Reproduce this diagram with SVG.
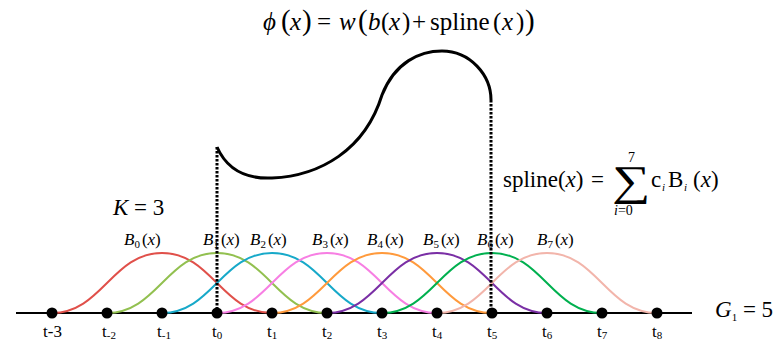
<svg xmlns="http://www.w3.org/2000/svg" width="778" height="345" viewBox="0 0 778 345">
<style>
text{font-family:'Liberation Serif','Times New Roman',serif;fill:#000}
.it{font-style:italic}
.f{font-size:25px}
.bp{font-size:29px}
.m{font-size:23px}
.lbl{font-size:17px}
.tk{font-size:17px}
.sb{font-size:11px}
.ss{font-size:14px}
.bs{fill:none;stroke-width:2}
.dash{stroke:#000;stroke-width:3;stroke-dasharray:2.5 1.5;fill:none}
.dot{fill:#000}
</style>
<g id="axis">
<line x1="16" y1="313" x2="692" y2="313" stroke="#000" stroke-width="2"/>
</g>
<g id="basis">
<path id="B0" class="bs" stroke="#e0504a" d="M52,313 C102,313 112,253 162,253 C212,253 222,313 272,313"/>
<path id="B1" class="bs" stroke="#92c050" d="M107,313 C157,313 167,253 217,253 C267,253 277,313 327,313"/>
<path id="B2" class="bs" stroke="#17a9c9" d="M162,313 C212,313 222,253 272,253 C322,253 332,313 382,313"/>
<path id="B3" class="bs" stroke="#f77fe3" d="M217,313 C267,313 277,253 327,253 C377,253 387,313 437,313"/>
<path id="B4" class="bs" stroke="#ff9a3c" d="M272,313 C322,313 332,253 382,253 C432,253 442,313 492,313"/>
<path id="B5" class="bs" stroke="#7a2fa5" d="M327,313 C377,313 387,253 437,253 C487,253 497,313 547,313"/>
<path id="B6" class="bs" stroke="#00b04f" d="M382,313 C432,313 442,253 492,253 C542,253 552,313 602,313"/>
<path id="B7" class="bs" stroke="#f2b5ab" d="M437,313 C487,313 497,253 547,253 C597,253 607,313 657,313"/>
</g>
<g id="connectors">
<line class="dash" x1="217" y1="147" x2="217" y2="313"/>
<line class="dash" x1="491" y1="100" x2="491" y2="313"/>
</g>
<g id="phi-curve">
<path d="M217,147 C228,172 250,179 272,178 C320,176 365,150 382,95 C395,62 420,51 442,51 C470,51 491,75 491,100" fill="none" stroke="#000" stroke-width="3"/>
</g>
<g id="knots">
<circle class="dot" cx="52" cy="313" r="5.5"/>
<circle class="dot" cx="107" cy="313" r="5.5"/>
<circle class="dot" cx="162" cy="313" r="5.5"/>
<circle class="dot" cx="217" cy="313" r="5.5"/>
<circle class="dot" cx="272" cy="313" r="5.5"/>
<circle class="dot" cx="327" cy="313" r="5.5"/>
<circle class="dot" cx="382" cy="313" r="5.5"/>
<circle class="dot" cx="437" cy="313" r="5.5"/>
<circle class="dot" cx="492" cy="313" r="5.5"/>
<circle class="dot" cx="547" cy="313" r="5.5"/>
<circle class="dot" cx="602" cy="313" r="5.5"/>
<circle class="dot" cx="657" cy="313" r="5.5"/>
</g>
<g id="knot-labels">
<text class="tk" x="43" y="337">t-3</text>
<text class="tk" x="102" y="337">t<tspan class="sb" dy="2">-2</tspan></text>
<text class="tk" x="157" y="337">t<tspan class="sb" dy="2">-1</tspan></text>
<text class="tk" x="212" y="337">t<tspan class="sb" dy="2">0</tspan></text>
<text class="tk" x="267" y="337">t<tspan class="sb" dy="2">1</tspan></text>
<text class="tk" x="322" y="337">t<tspan class="sb" dy="2">2</tspan></text>
<text class="tk" x="377" y="337">t<tspan class="sb" dy="2">3</tspan></text>
<text class="tk" x="432" y="337">t<tspan class="sb" dy="2">4</tspan></text>
<text class="tk" x="487" y="337">t<tspan class="sb" dy="2">5</tspan></text>
<text class="tk" x="542" y="337">t<tspan class="sb" dy="2">6</tspan></text>
<text class="tk" x="597" y="337">t<tspan class="sb" dy="2">7</tspan></text>
<text class="tk" x="652" y="337">t<tspan class="sb" dy="2">8</tspan></text>
</g>
<g id="basis-labels">
<text class="lbl" x="124" y="245"><tspan class="it">B</tspan><tspan class="sb" dy="3">0</tspan><tspan dy="-3" dx="2">(</tspan><tspan class="it">x</tspan>)</text>
<text class="lbl" x="203" y="245"><tspan class="it">B</tspan><tspan class="sb" dy="3">1</tspan><tspan dy="-3" dx="2">(</tspan><tspan class="it">x</tspan>)</text>
<text class="lbl" x="250" y="245"><tspan class="it">B</tspan><tspan class="sb" dy="3">2</tspan><tspan dy="-3" dx="2">(</tspan><tspan class="it">x</tspan>)</text>
<text class="lbl" x="312" y="245"><tspan class="it">B</tspan><tspan class="sb" dy="3">3</tspan><tspan dy="-3" dx="2">(</tspan><tspan class="it">x</tspan>)</text>
<text class="lbl" x="367" y="245"><tspan class="it">B</tspan><tspan class="sb" dy="3">4</tspan><tspan dy="-3" dx="2">(</tspan><tspan class="it">x</tspan>)</text>
<text class="lbl" x="423" y="245"><tspan class="it">B</tspan><tspan class="sb" dy="3">5</tspan><tspan dy="-3" dx="2">(</tspan><tspan class="it">x</tspan>)</text>
<text class="lbl" x="477" y="245"><tspan class="it">B</tspan><tspan class="sb" dy="3">6</tspan><tspan dy="-3" dx="2">(</tspan><tspan class="it">x</tspan>)</text>
<text class="lbl" x="537" y="245"><tspan class="it">B</tspan><tspan class="sb" dy="3">7</tspan><tspan dy="-3" dx="2">(</tspan><tspan class="it">x</tspan>)</text>
</g>
<g id="title">
<text class="f" y="30"><tspan class="it" x="263">ϕ</tspan><tspan class="bp" x="281">(</tspan><tspan class="it" x="290">x</tspan><tspan class="bp" x="302">)</tspan><tspan x="317">=</tspan><tspan class="it" x="339">w</tspan><tspan class="bp" x="358">(</tspan><tspan class="it" x="368">b</tspan><tspan x="381">(</tspan><tspan class="it" x="389">x</tspan><tspan x="402">)</tspan><tspan x="412">+</tspan><tspan x="430">spline</tspan><tspan x="493">(</tspan><tspan class="it" x="502">x</tspan><tspan x="516">)</tspan><tspan class="bp" x="525">)</tspan></text>
</g>
<g id="spline-formula">
<text class="m" y="187"><tspan x="503">spline(</tspan><tspan class="it">x</tspan><tspan>)</tspan><tspan x="591">=</tspan></text>
<text transform="translate(612,195) scale(1.28,1)" font-size="42">∑</text>
<text class="ss" x="628" y="162">7</text>
<text class="ss" x="614" y="215"><tspan class="it">i</tspan>=0</text>
<text class="m" y="187"><tspan x="651">c</tspan><tspan class="it sb" x="662" dy="4">i</tspan><tspan x="668" dy="-4">B</tspan><tspan class="it sb" x="684" dy="4">i</tspan><tspan x="693" dy="-4">(</tspan><tspan class="it">x</tspan><tspan>)</tspan></text>
</g>
<g id="K-label">
<text class="m" x="113" y="215"><tspan class="it">K</tspan> = 3</text>
</g>
<g id="G-label">
<text class="m" x="715" y="317"><tspan class="it">G</tspan><tspan class="sb" dy="4">1</tspan><tspan dy="-4"> = 5</tspan></text>
</g>
</svg>
